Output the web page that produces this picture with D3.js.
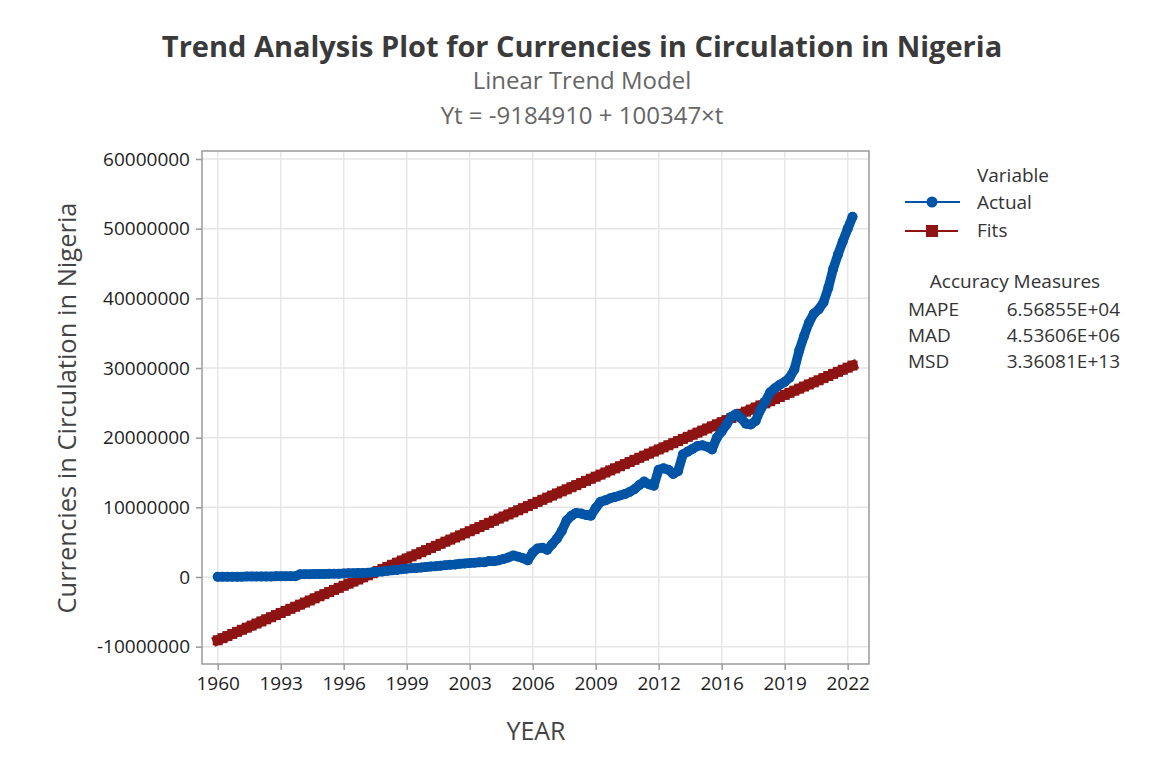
<!DOCTYPE html>
<html>
<head>
<meta charset="utf-8">
<script src="https://cdn.jsdelivr.net/npm/d3@7"></script>
<style>
  body { margin: 0; background: #fff; }
  svg { font-family: "Open Sans", "Noto Sans", sans-serif; }
</style>
</head>
<body>
<svg id="chart" width="1154" height="765"></svg>
<script>
// monthly index t = 1 + 3*i (every third month shown)
var STEP = 3;

// Actual values, millions
var actual = [
  0.03, 0.03, 0.04, 0.04, 0.05, 0.05, 0.06, 0.06, 0.07, 0.07,
  0.08, 0.08, 0.09, 0.09, 0.10, 0.10, 0.11, 0.38, 0.40, 0.41,
  0.42, 0.43, 0.44, 0.45, 0.46, 0.48, 0.50, 0.52, 0.54, 0.56,
  0.58, 0.62, 0.68, 0.74, 0.80, 0.88, 0.95, 1.02, 1.10, 1.20,
  1.25, 1.30, 1.35, 1.42, 1.50, 1.55, 1.62, 1.70, 1.75, 1.80,
  1.90, 1.95, 2.00, 2.05, 2.10, 2.10, 2.30, 2.25, 2.40, 2.60,
  2.80, 3.10, 2.90, 2.70, 2.40, 3.50, 4.10, 4.20, 3.90, 4.70,
  5.50, 6.60, 8.10, 8.80, 9.20, 9.10, 8.90, 8.80, 9.90, 10.8,
  11.0, 11.3, 11.5, 11.7, 11.9, 12.2, 12.6, 13.2, 13.7, 13.3,
  13.1, 15.4, 15.6, 15.4, 14.8, 15.2, 17.6, 18.0, 18.4, 18.8,
  18.9, 18.7, 18.3, 20.0, 20.9, 21.9, 23.0, 23.4, 22.8, 22.0,
  21.9, 22.4, 24.0, 25.2, 26.5, 27.1, 27.6, 28.0, 28.6, 29.8,
  32.5, 34.6, 36.5, 37.8, 38.4, 39.4, 41.5, 44.2, 46.3, 48.2,
  50.0, 51.7
];

// Fits from the linear trend, millions
var fits = [
  -9.08, -8.78, -8.48, -8.18, -7.88, -7.58, -7.28, -6.98, -6.68, -6.38,
  -6.07, -5.77, -5.47, -5.17, -4.87, -4.57, -4.27, -3.97, -3.67, -3.37,
  -3.06, -2.76, -2.46, -2.16, -1.86, -1.56, -1.26, -0.96, -0.66, -0.36,
  -0.05, 0.25, 0.55, 0.85, 1.15, 1.45, 1.75, 2.05, 2.36, 2.66,
  2.96, 3.26, 3.56, 3.86, 4.16, 4.46, 4.76, 5.07, 5.37, 5.67,
  5.97, 6.27, 6.57, 6.87, 7.17, 7.47, 7.77, 8.07, 8.38, 8.68,
  8.98, 9.28, 9.58, 9.88, 10.18, 10.48, 10.78, 11.08, 11.39, 11.69,
  11.99, 12.29, 12.59, 12.89, 13.19, 13.49, 13.79, 14.10, 14.40, 14.70,
  15.00, 15.30, 15.60, 15.90, 16.20, 16.50, 16.81, 17.11, 17.41, 17.71,
  18.01, 18.31, 18.61, 18.91, 19.21, 19.51, 19.82, 20.12, 20.42, 20.72,
  21.02, 21.32, 21.62, 21.92, 22.22, 22.52, 22.83, 23.13, 23.43, 23.73,
  24.03, 24.33, 24.63, 24.93, 25.23, 25.54, 25.84, 26.14, 26.44, 26.74,
  27.04, 27.34, 27.64, 27.94, 28.24, 28.55, 28.85, 29.15, 29.45, 29.75,
  30.05, 30.35
];

var xTickIndex = [1, 40, 79, 118, 157, 196, 235, 274, 313, 352, 391];
var xTickLabels = ["1960", "1993", "1996", "1999", "2003", "2006", "2009", "2012", "2016", "2019", "2022"];
var yTicks = [-10000000, 0, 10000000, 20000000, 30000000, 40000000, 50000000, 60000000];

var accuracyNames = ["MAPE", "MAD", "MSD"];
var accuracyValues = ["6.56855E+04", "4.53606E+06", "3.36081E+13"];

var BLUE = "#0054a6", RED = "#8e1414";

var svg = d3.select("#chart");
var pLeft = 202, pRight = 869, pTop = 151, pBottom = 664;

var x = d3.scaleLinear().domain([-8.72, 404.2]).range([pLeft, pRight]);
var y = d3.scaleLinear().domain([-12.49e6, 61.15e6]).range([pBottom, pTop]);

// grid
var grid = svg.append("g");
grid.selectAll("line.gx").data(xTickIndex).enter().append("line")
  .attr("x1", function(d) { return x(d); }).attr("x2", function(d) { return x(d); })
  .attr("y1", pTop).attr("y2", pBottom)
  .attr("stroke", "#e6e6e6").attr("stroke-width", 1.5);
grid.selectAll("line.gy").data(yTicks).enter().append("line")
  .attr("x1", pLeft).attr("x2", pRight)
  .attr("y1", function(d) { return y(d); }).attr("y2", function(d) { return y(d); })
  .attr("stroke", "#e6e6e6").attr("stroke-width", 1.5);

// axes
var xAxis = d3.axisBottom(x).tickValues(xTickIndex).tickSize(6).tickPadding(7)
  .tickFormat(function(d, i) { return xTickLabels[i]; });
var yAxis = d3.axisLeft(y).tickValues(yTicks).tickSize(6).tickPadding(6)
  .tickFormat(function(d) { return String(d); });

var gx = svg.append("g").attr("transform", "translate(0," + pBottom + ")").call(xAxis);
var gy = svg.append("g").attr("transform", "translate(" + pLeft + ",0)").call(yAxis);
[gx, gy].forEach(function(g) {
  g.select(".domain").remove();
  g.selectAll(".tick line").attr("stroke", "#9a9a9a").attr("stroke-width", 1.5);
  g.selectAll(".tick text").attr("fill", "#1e1e1e").style("font-size", "19px")
    .style("font-family", "'Open Sans', sans-serif");
});

// frame
svg.append("rect").attr("x", pLeft).attr("y", pTop)
  .attr("width", pRight - pLeft).attr("height", pBottom - pTop)
  .attr("fill", "none").attr("stroke", "#9a9a9a").attr("stroke-width", 1.5);

// series: monthly symbols overlap into a thick band, so connect them with a band too
var line = d3.line()
  .x(function(d, i) { return x(1 + STEP * i); })
  .y(function(d) { return y(d * 1e6); });
var plot = svg.append("g");
plot.append("path").datum(fits).attr("d", line)
  .attr("fill", "none").attr("stroke", RED).attr("stroke-width", 10)
  .attr("stroke-linecap", "square");
plot.selectAll("rect.fit").data(fits).enter().append("rect")
  .attr("x", function(d, i) { return x(1 + STEP * i) - 5; })
  .attr("y", function(d) { return y(d * 1e6) - 5; })
  .attr("width", 10).attr("height", 10).attr("fill", RED);
plot.append("path").datum(actual).attr("d", line)
  .attr("fill", "none").attr("stroke", BLUE).attr("stroke-width", 9.5)
  .attr("stroke-linejoin", "round").attr("stroke-linecap", "round");
plot.selectAll("circle.act").data(actual).enter().append("circle")
  .attr("cx", function(d, i) { return x(1 + STEP * i); })
  .attr("cy", function(d) { return y(d * 1e6); })
  .attr("r", 5).attr("fill", BLUE);

// titles
svg.append("text").attr("x", 582).attr("y", 57).attr("text-anchor", "middle")
  .style("font-size", "29px").style("font-weight", "bold").attr("fill", "#3a3a3a")
  .text("Trend Analysis Plot for Currencies in Circulation in Nigeria");
svg.append("text").attr("x", 582).attr("y", 89).attr("text-anchor", "middle")
  .style("font-size", "24px").attr("fill", "#666").text("Linear Trend Model");
svg.append("text").attr("x", 582).attr("y", 124).attr("text-anchor", "middle")
  .style("font-size", "24px").attr("fill", "#666").text("Yt = -9184910 + 100347×t");

svg.append("text").attr("x", 536).attr("y", 740).attr("text-anchor", "middle")
  .style("font-size", "25px").attr("fill", "#444").text("YEAR");
svg.append("text").attr("transform", "translate(76,408) rotate(-90)")
  .attr("text-anchor", "middle").style("font-size", "25.5px").attr("fill", "#444")
  .text("Currencies in Circulation in Nigeria");

// legend
var lg = svg.append("g").style("font-size", "19px").attr("fill", "#333");
lg.append("text").attr("x", 1013).attr("y", 182).attr("text-anchor", "middle").text("Variable");
lg.append("line").attr("x1", 905).attr("x2", 960).attr("y1", 202).attr("y2", 202)
  .attr("stroke", BLUE).attr("stroke-width", 2);
lg.append("circle").attr("cx", 932).attr("cy", 202).attr("r", 5.5).attr("fill", BLUE);
lg.append("text").attr("x", 977).attr("y", 209).text("Actual");
lg.append("line").attr("x1", 905).attr("x2", 958).attr("y1", 231).attr("y2", 231)
  .attr("stroke", RED).attr("stroke-width", 2);
lg.append("rect").attr("x", 926).attr("y", 225).attr("width", 12).attr("height", 12).attr("fill", RED);
lg.append("text").attr("x", 977).attr("y", 237).text("Fits");

lg.append("text").attr("x", 1015).attr("y", 288).attr("text-anchor", "middle").text("Accuracy Measures");
accuracyNames.forEach(function(n, i) {
  lg.append("text").attr("x", 908).attr("y", 316 + i * 26).text(n);
  lg.append("text").attr("x", 1120).attr("y", 316 + i * 26).attr("text-anchor", "end").text(accuracyValues[i]);
});
</script>
</body>
</html>
